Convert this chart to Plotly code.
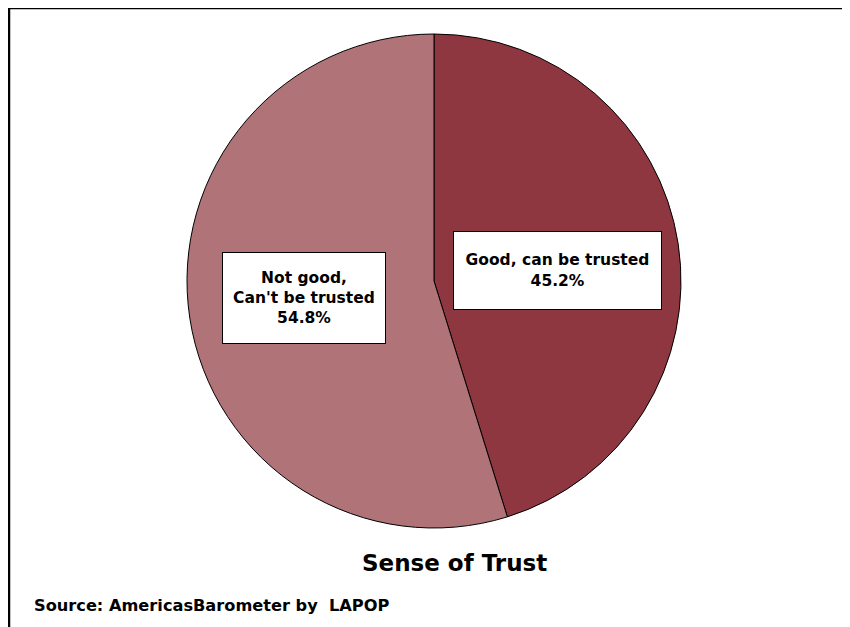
import plotly.graph_objects as go

categories = ["Good, can be trusted", "Not good,<br>Can't be trusted"]
values = [45.2, 54.8]
colors = ["#8F3740", "#B07377"]
title_text = "Sense of Trust"
source_text = "Source: AmericasBarometer by  LAPOP"

# page body has an 8px margin; work in screen pixels and convert
OFF = 8
W, H = 850 - OFF, 627 - OFF


def px(x):
    return (x - OFF) / W


def py(y):
    return 1 - (y - OFF) / H


cx, cy, r = 434, 281, 247

fig = go.Figure(go.Pie(
    labels=categories,
    values=values,
    sort=False,
    direction="clockwise",
    rotation=0,
    marker=dict(colors=colors, line=dict(color="black", width=1)),
    textinfo="none",
    hoverinfo="label+percent",
    showlegend=False,
    domain=dict(x=[px(cx - r), px(cx + r)], y=[py(cy + r), py(cy - r)]),
))

font_family = "DejaVu Sans"
boxes = [(557, 271, 207, 77), (304, 298, 162, 90)]
for cat, val, (bx, by, bw, bh) in zip(categories, values, boxes):
    fig.add_annotation(
        x=px(bx), y=py(by), xref="paper", yref="paper",
        text=f"<b>{cat}<br>{val:.1f}%</b>",
        showarrow=False, align="center",
        font=dict(family=font_family, size=15.5, color="black"),
        bgcolor="white", bordercolor="black", borderwidth=1,
        width=bw - 2, height=bh - 2, xanchor="center", yanchor="middle",
    )

fig.add_annotation(
    x=px(454), y=py(563), xref="paper", yref="paper",
    text=f"<b>{title_text}</b>", showarrow=False,
    font=dict(family=font_family, size=23, color="black"),
    xanchor="center", yanchor="middle",
)
fig.add_annotation(
    x=px(32), y=py(605), xref="paper", yref="paper",
    text=f"<b>{source_text}</b>", showarrow=False,
    font=dict(family=font_family, size=16.2, color="black"),
    xanchor="left", yanchor="middle",
)

fig.add_shape(type="line", xref="paper", yref="paper",
              x0=px(8), x1=1, y0=py(8), y1=py(8),
              line=dict(color="black", width=2.5))
fig.add_shape(type="line", xref="paper", yref="paper",
              x0=px(9), x1=px(9), y0=0, y1=py(8),
              line=dict(color="black", width=2.5))

fig.update_layout(
    width=W, height=H,
    margin=dict(l=0, r=0, t=0, b=0),
    paper_bgcolor="white", plot_bgcolor="white",
)

fig.write_html("out.html")
